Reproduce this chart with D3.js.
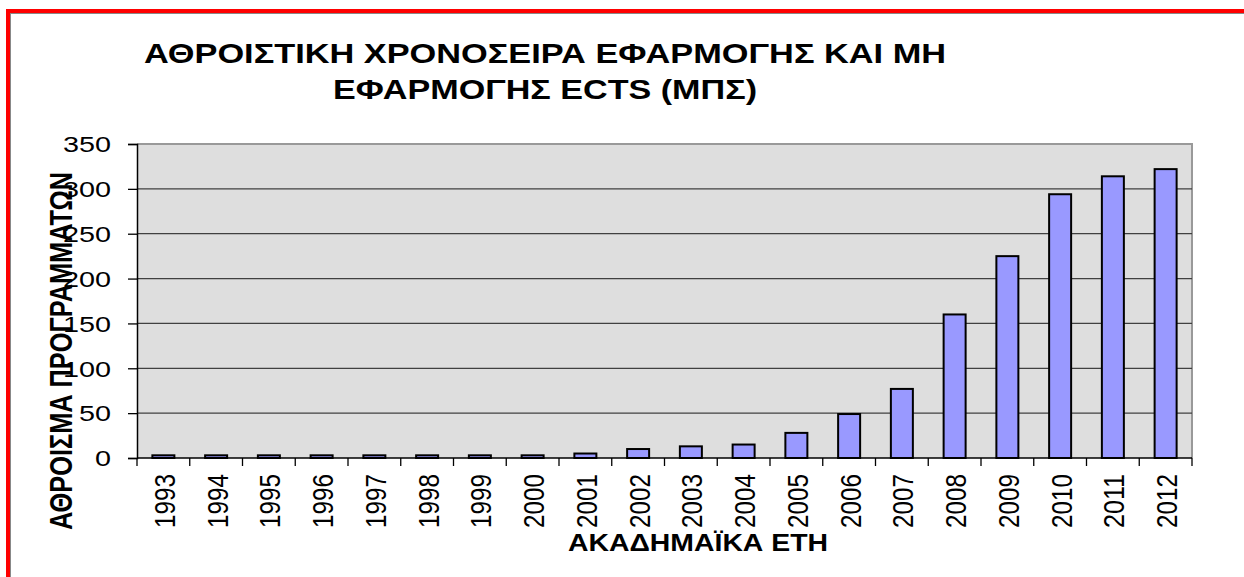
<!DOCTYPE html>
<html>
<head>
<meta charset="utf-8">
<script src="https://cdn.jsdelivr.net/npm/d3@7"></script>
<style>
  body { margin: 0; background: #fff; }
  svg { display: block; font-family: "Liberation Sans", Arial, sans-serif; }
</style>
</head>
<body>
<svg id="chart" width="1244" height="577"></svg>
<script>
var years = ["1993","1994","1995","1996","1997","1998","1999","2000","2001","2002",
             "2003","2004","2005","2006","2007","2008","2009","2010","2011","2012"];
var totals = [3, 3, 3, 3, 3, 3, 3, 3, 5, 10, 13, 15, 28, 49, 77, 160, 225, 294, 314, 322];
var yTicks = [0, 50, 100, 150, 200, 250, 300, 350];
var titleLines = ["ΑΘΡΟΙΣΤΙΚΗ ΧΡΟΝΟΣΕΙΡΑ ΕΦΑΡΜΟΓΗΣ ΚΑΙ ΜΗ", "ΕΦΑΡΜΟΓΗΣ ECTS (ΜΠΣ)"];
var xTitle = "ΑΚΑΔΗΜΑΪΚΑ ΕΤΗ";
var yTitle = "ΑΘΡΟΙΣΜΑ ΠΡΟΓΡΑΜΜΑΤΩΝ";

draw();

function draw() {
  var svg = d3.select("#chart");

  // frame
  svg.append("rect").attr("x", 10.5).attr("y", 13.5).attr("width", 1240).attr("height", 570)
      .attr("fill", "#fff").attr("stroke", "#888").attr("stroke-width", 1);
  svg.append("line").attr("x1", 6).attr("x2", 1244).attr("y1", 11).attr("y2", 11)
      .attr("stroke", "#ff0000").attr("stroke-width", 4);
  svg.append("line").attr("x1", 8).attr("x2", 8).attr("y1", 9).attr("y2", 577)
      .attr("stroke", "#ff0000").attr("stroke-width", 4);

  var pLeft = 137, pRight = 1192, pTop = 144, pBottom = 458;

  var x = d3.scaleBand().domain(years).range([pLeft, pRight])
      .paddingInner(0.583).paddingOuter(0.2915);
  var y = d3.scaleLinear().domain([0, 350]).range([pBottom, pTop]);

  // plot area
  svg.append("rect").attr("x", pLeft).attr("y", pTop)
      .attr("width", pRight - pLeft).attr("height", pBottom - pTop)
      .attr("fill", "#dedede");
  svg.append("path")
      .attr("d", "M" + pLeft + "," + pTop + "H" + pRight + "V" + pBottom)
      .attr("fill", "none").attr("stroke", "#999").attr("stroke-width", 2);

  svg.append("g").selectAll("line")
      .data(yTicks.filter(function(d) { return d > 0 && d < 350; }))
      .enter().append("line")
      .attr("x1", pLeft).attr("x2", pRight)
      .attr("y1", function(d) { return y(d); })
      .attr("y2", function(d) { return y(d); })
      .attr("stroke", "#404040").attr("stroke-width", 1.3);

  // bars
  svg.selectAll(".bar")
      .data(years)
      .enter().append("rect")
      .attr("class", "bar")
      .attr("x", function(d) { return x(d); })
      .attr("width", x.bandwidth())
      .attr("y", function(d, i) { return y(totals[i]); })
      .attr("height", function(d, i) { return pBottom - y(totals[i]); })
      .attr("fill", "#9999ff")
      .attr("stroke", "#000")
      .attr("stroke-width", 2);

  // y axis
  var yAxis = d3.axisLeft(y).tickValues(yTicks).tickSize(9).tickPadding(17);
  var gy = svg.append("g").attr("transform", "translate(" + pLeft + ",0)").call(yAxis);
  gy.select(".domain").attr("stroke", "#000").attr("stroke-width", 1.5);
  gy.selectAll(".tick line").attr("stroke", "#000").attr("stroke-width", 1.3);
  gy.selectAll(".tick text")
      .attr("font-size", 21.5)
      .attr("font-family", "Liberation Sans, Arial, sans-serif")
      .attr("fill", "#000")
      .attr("dy", "0.36em")
      .attr("textLength", function(d) { return String(d).length * 16; })
      .attr("lengthAdjust", "spacingAndGlyphs");

  // x axis: ticks between categories
  var gx = svg.append("g");
  gx.append("line").attr("x1", pLeft).attr("x2", pRight).attr("y1", pBottom).attr("y2", pBottom)
      .attr("stroke", "#000").attr("stroke-width", 1.5);
  gx.selectAll(".xtick")
      .data(d3.range(years.length + 1))
      .enter().append("line")
      .attr("class", "xtick")
      .attr("x1", function(i) { return pLeft + i * x.step(); })
      .attr("x2", function(i) { return pLeft + i * x.step(); })
      .attr("y1", pBottom).attr("y2", pBottom + 8)
      .attr("stroke", "#000").attr("stroke-width", 1.3);
  gx.selectAll(".xlabel")
      .data(years)
      .enter().append("text")
      .attr("class", "xlabel")
      .attr("transform", function(d) {
        return "translate(" + (x(d) + x.bandwidth() / 2 + 11.5) + "," + 474 + ") rotate(-90)";
      })
      .attr("text-anchor", "end")
      .attr("font-size", 30)
      .attr("textLength", 54)
      .attr("lengthAdjust", "spacingAndGlyphs")
      .text(function(d) { return d; });

  // titles
  svg.selectAll(".title")
      .data(titleLines)
      .enter().append("text")
      .attr("class", "title")
      .attr("x", 545)
      .attr("y", function(d, i) { return 63 + i * 36; })
      .attr("text-anchor", "middle")
      .attr("font-size", 28)
      .attr("font-weight", "bold")
      .attr("textLength", function(d, i) { return i === 0 ? 802 : 424; })
      .attr("lengthAdjust", "spacingAndGlyphs")
      .text(function(d) { return d; });

  svg.append("text")
      .attr("x", 698).attr("y", 551)
      .attr("text-anchor", "middle")
      .attr("font-size", 24)
      .attr("font-weight", "bold")
      .attr("textLength", 260)
      .attr("lengthAdjust", "spacingAndGlyphs")
      .text(xTitle);

  svg.append("text")
      .attr("transform", "translate(72,351) rotate(-90)")
      .attr("text-anchor", "middle")
      .attr("font-size", 32)
      .attr("font-weight", "bold")
      .attr("textLength", 358)
      .attr("lengthAdjust", "spacingAndGlyphs")
      .text(yTitle);
}
</script>
</body>
</html>
